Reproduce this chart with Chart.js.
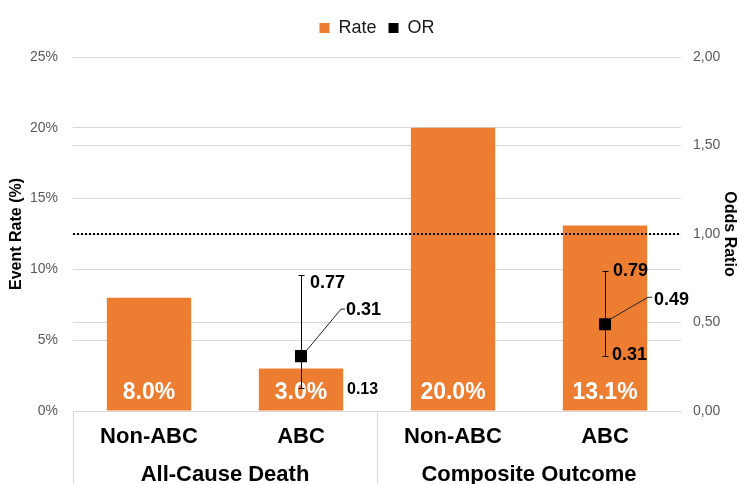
<!DOCTYPE html>
<html><head><meta charset="utf-8">
<script src="https://cdn.jsdelivr.net/npm/chart.js@4.4.1/dist/chart.umd.min.js"></script>
<style>html,body{margin:0;padding:0;background:#fff}#wrap{width:739px;height:484px}</style>
</head><body><div id="wrap"><canvas id="c" width="739" height="484"></canvas></div>
<script>
// ---- data ----
const categories = ['Non-ABC', 'ABC', 'Non-ABC', 'ABC'];
const groups = ['All-Cause Death', 'Composite Outcome'];
const rateValues = [8.0, 3.0, 20.0, 13.1];
const orValues = [null, 0.31, null, 0.49];
const orLower = [null, 0.13, null, 0.31];
const orUpper = [null, 0.77, null, 0.79];
const orReference = 1.0;
const rateTickLabels = ['0%', '5%', '10%', '15%', '20%', '25%'];
const orTickLabels = ['0,00', '0,50', '1,00', '1,50', '2,00'];

// ---- styles ----
const FONT = "'Liberation Sans', Arial, Helvetica, sans-serif";
const ORANGE = '#ED7D31';
const GRID = '#D9D9D9';
const orLabelLayout = {
  1: {hi: {dx: 9, dy: 8, size: 18}, lo: {dx: 46, dy: 2, size: 16}, pt: {lx: 40, ly: -47, tx: 45, ty: -46, size: 18}},
  3: {hi: {dx: 8, dy: 0, size: 18}, lo: {dx: 7, dy: -1, size: 18}, pt: {lx: 43, ly: -27, tx: 49, ty: -24, size: 18}}
};

const overlay = {
  id: 'overlay',
  afterDatasetsDraw(chart) {
    const {ctx, chartArea, scales} = chart;
    const x = scales.x, y1 = scales.y1;
    ctx.save();
    // bar value labels
    const barMeta = chart.getDatasetMeta(0);
    ctx.font = `bold 23px ${FONT}`;
    ctx.fillStyle = '#fff';
    ctx.textAlign = 'center';
    ctx.textBaseline = 'middle';
    barMeta.data.forEach((bar, i) => {
      ctx.fillText(rateValues[i].toFixed(1) + '%', bar.x, bar.base - 18);
    });
    // reference line OR = 1
    const yRef = y1.getPixelForValue(orReference);
    ctx.beginPath();
    ctx.setLineDash([2, 2]);
    ctx.lineWidth = 2;
    ctx.strokeStyle = '#000';
    ctx.moveTo(chartArea.left, yRef);
    ctx.lineTo(chartArea.right, yRef);
    ctx.stroke();
    ctx.setLineDash([]);
    // error bars + labels
    orValues.forEach((v, i) => {
      if (v == null) return;
      const px = Math.round(x.getPixelForValue(i));
      const py = y1.getPixelForValue(v);
      const yl = Math.round(y1.getPixelForValue(orLower[i]));
      const yh = Math.round(y1.getPixelForValue(orUpper[i]));
      ctx.strokeStyle = '#000';
      ctx.lineWidth = 1;
      ctx.beginPath();
      ctx.moveTo(px + 0.5, yh); ctx.lineTo(px + 0.5, yl);
      ctx.moveTo(px - 2.5, yh + 0.5); ctx.lineTo(px + 3.5, yh + 0.5);
      ctx.moveTo(px - 2.5, yl + 0.5); ctx.lineTo(px + 3.5, yl + 0.5);
      ctx.stroke();
      const L = orLabelLayout[i];
      ctx.fillStyle = '#000';
      ctx.textAlign = 'left';
      ctx.textBaseline = 'middle';
      ctx.font = `bold ${L.hi.size}px ${FONT}`;
      ctx.fillText(orUpper[i].toFixed(2), px + L.hi.dx, yh + L.hi.dy);
      ctx.font = `bold ${L.lo.size}px ${FONT}`;
      ctx.fillText(orLower[i].toFixed(2), px + L.lo.dx, yl + L.lo.dy);
      ctx.strokeStyle = '#222';
      ctx.beginPath();
      ctx.moveTo(px + 5, py - 5);
      ctx.lineTo(px + L.pt.lx, py + L.pt.ly);
      ctx.lineTo(px + L.pt.lx + 4, py + L.pt.ly);
      ctx.stroke();
      ctx.font = `bold ${L.pt.size}px ${FONT}`;
      ctx.fillText(v.toFixed(2), px + L.pt.tx, py + L.pt.ty);
    });
    ctx.restore();
  },
  afterDraw(chart) {
    const {ctx, scales} = chart;
    const x = scales.x;
    ctx.save();
    ctx.font = `bold 22px ${FONT}`;
    ctx.fillStyle = '#000';
    ctx.textAlign = 'center';
    ctx.textBaseline = 'middle';
    const per = categories.length / groups.length;
    groups.forEach((g, gi) => {
      const a = x.getPixelForValue(gi * per);
      const b = x.getPixelForValue(gi * per + per - 1);
      ctx.fillText(g, (a + b) / 2, 475);
    });
    ctx.restore();
  }
};

new Chart(document.getElementById('c'), {
  data: {
    labels: categories,
    datasets: [
      {type: 'bar', label: 'Rate', data: rateValues, yAxisID: 'y', backgroundColor: ORANGE,
       borderWidth: 0, barPercentage: 0.555, categoryPercentage: 1, order: 2},
      {type: 'line', label: 'OR', data: orValues, yAxisID: 'y1', showLine: false, pointStyle: 'rect',
       pointRadius: 8.5, pointHoverRadius: 8.5, backgroundColor: '#000', borderColor: '#000',
       borderWidth: 0, pointBorderWidth: 0, order: 1}
    ]
  },
  options: {
    responsive: false,
    animation: false,
    devicePixelRatio: 1,
    events: [],
    layout: {padding: 0},
    plugins: {
      legend: {
        position: 'top', fullSize: false,
        labels: {boxWidth: 10, boxHeight: 10, padding: 12, color: '#1a1a1a', font: {family: FONT, size: 18},
                 sort: (a, b) => a.datasetIndex - b.datasetIndex},
        title: {display: true, text: '', padding: 0, font: {size: 7, lineHeight: 1}}
      },
      title: {display: true, text: '', fullSize: false, weight: 500, padding: {top: 0, bottom: 9}, font: {size: 1, lineHeight: 1}},
      tooltip: {enabled: false}
    },
    scales: {
      x: {
        grid: {offset: true, drawOnChartArea: false, drawTicks: true, tickLength: 73, lineWidth: 1,
               color: c => (c.index % 2 === 0 ? GRID : 'rgba(0,0,0,0)')},
        border: {display: true, color: GRID},
        ticks: {font: {family: FONT, size: 22, weight: 'bold'}, color: '#000', padding: -60, maxRotation: 0, autoSkip: false},
        afterFit: s => { s.height = 73; }
      },
      y: {
        position: 'left', min: 0, max: 25,
        ticks: {stepSize: 5, callback: (v, i) => rateTickLabels[i], font: {family: FONT, size: 14}, color: '#595959', padding: 15},
        grid: {color: GRID, drawTicks: false},
        border: {display: false},
        title: {display: true, text: 'Event Rate (%)', color: '#000', font: {family: FONT, size: 16, weight: 'bold'}, padding: {top: 7, bottom: 0}},
        afterFit: s => { s.width = 73; }
      },
      y1: {
        position: 'right', min: 0, max: 2,
        ticks: {stepSize: 0.5, callback: (v, i) => orTickLabels[i], font: {family: FONT, size: 14}, color: '#595959', padding: 12},
        grid: {color: GRID, drawTicks: false},
        border: {display: false},
        title: {display: true, text: 'Odds Ratio', color: '#000', font: {family: FONT, size: 16, weight: 'bold'}, padding: {top: 0, bottom: 0}},
        afterFit: s => { s.width = 58; }
      }
    }
  },
  plugins: [overlay]
});
</script></body></html>
